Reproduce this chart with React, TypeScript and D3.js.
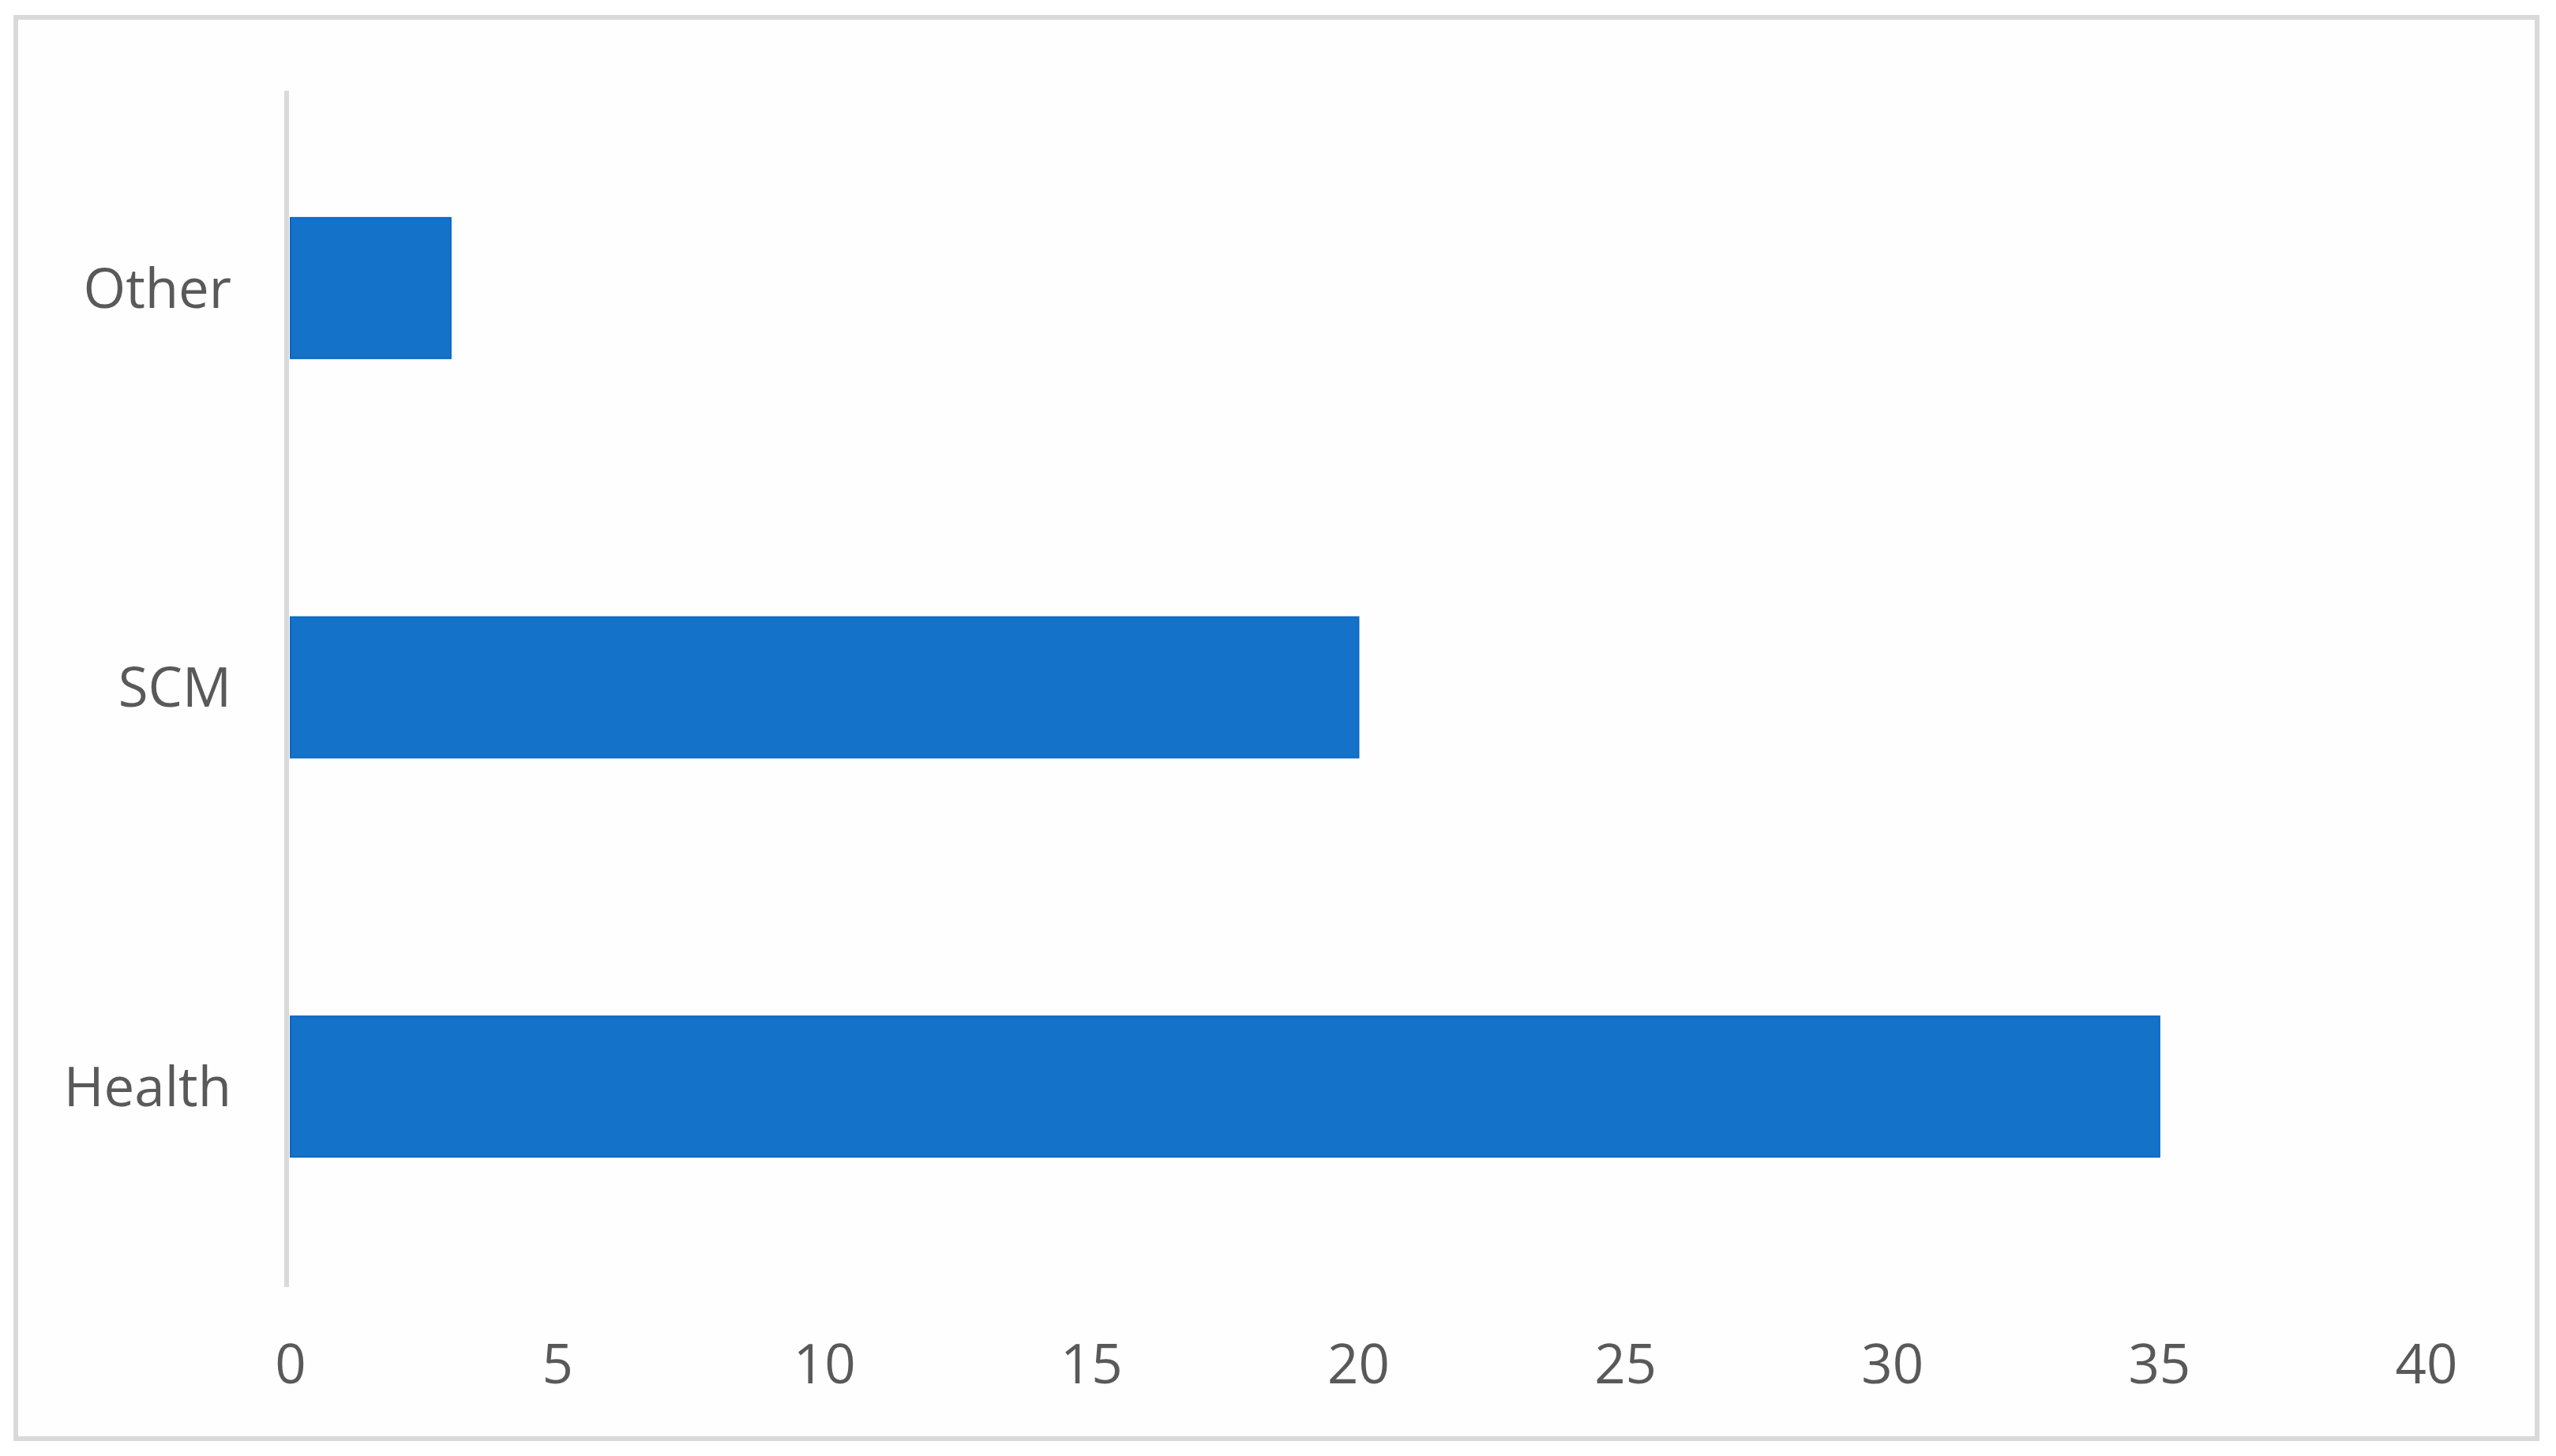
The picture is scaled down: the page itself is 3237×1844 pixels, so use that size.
import React, { useEffect, useRef } from 'react';
import * as d3 from 'd3';

const categories = ['Other', 'SCM', 'Health'];
const values = [3, 20, 35];
const xTicks = [0, 5, 10, 15, 20, 25, 30, 35, 40];

const App: React.FC = () => {
  const svgRef = useRef<SVGSVGElement>(null);

  useEffect(() => {
    if (!svgRef.current) return;
    document.body.style.margin = '0';

    const svg = d3.select(svgRef.current);
    svg.selectAll('*').remove();

    const width = 3237;
    const height = 1844;
    const font = '"Open Sans", "Noto Sans", sans-serif';

    svg.attr('width', width).attr('height', height).attr('viewBox', `0 0 ${width} ${height}`);

    svg.append('rect')
      .attr('width', width)
      .attr('height', height)
      .attr('fill', '#ffffff');

    // chart frame
    svg.append('rect')
      .attr('x', 20)
      .attr('y', 22)
      .attr('width', 3193)
      .attr('height', 1800)
      .attr('fill', '#fefefe')
      .attr('stroke', '#d9d9d9')
      .attr('stroke-width', 6);

    const x = d3.scaleLinear().domain([0, 40]).range([368, 3073]);
    const y = d3.scaleBand<string>()
      .domain(categories)
      .range([112, 1629])
      .paddingInner(0.648)
      .paddingOuter(0.324);

    // bars
    svg.append('g')
      .selectAll('rect')
      .data(values)
      .join('rect')
      .attr('x', x(0))
      .attr('y', (_, i) => y(categories[i])!)
      .attr('width', d => x(d) - x(0))
      .attr('height', y.bandwidth())
      .attr('fill', '#1572c9')
      .attr('stroke', '#0a68c4')
      .attr('stroke-width', 2);

    // vertical axis line
    svg.append('line')
      .attr('x1', 363)
      .attr('x2', 363)
      .attr('y1', 115)
      .attr('y2', 1630)
      .attr('stroke', '#d9d9d9')
      .attr('stroke-width', 6);

    // category labels
    svg.append('g')
      .selectAll('text')
      .data(categories)
      .join('text')
      .attr('x', 293)
      .attr('y', d => y(d)! + y.bandwidth() / 2)
      .attr('dy', '0.36em')
      .attr('text-anchor', 'end')
      .attr('font-family', font)
      .attr('font-size', 69)
      .attr('fill', '#595959')
      .text(d => d);

    // value tick labels
    svg.append('g')
      .selectAll('text')
      .data(xTicks)
      .join('text')
      .attr('x', d => x(d))
      .attr('y', 1752)
      .attr('text-anchor', 'middle')
      .attr('font-family', font)
      .attr('font-size', 69)
      .attr('fill', '#595959')
      .text(d => String(d));
  }, []);

  return (
    <div style={{ position: 'absolute', left: 0, top: 0 }}>
      <svg ref={svgRef} style={{ display: 'block' }}></svg>
    </div>
  );
};

export default App;
